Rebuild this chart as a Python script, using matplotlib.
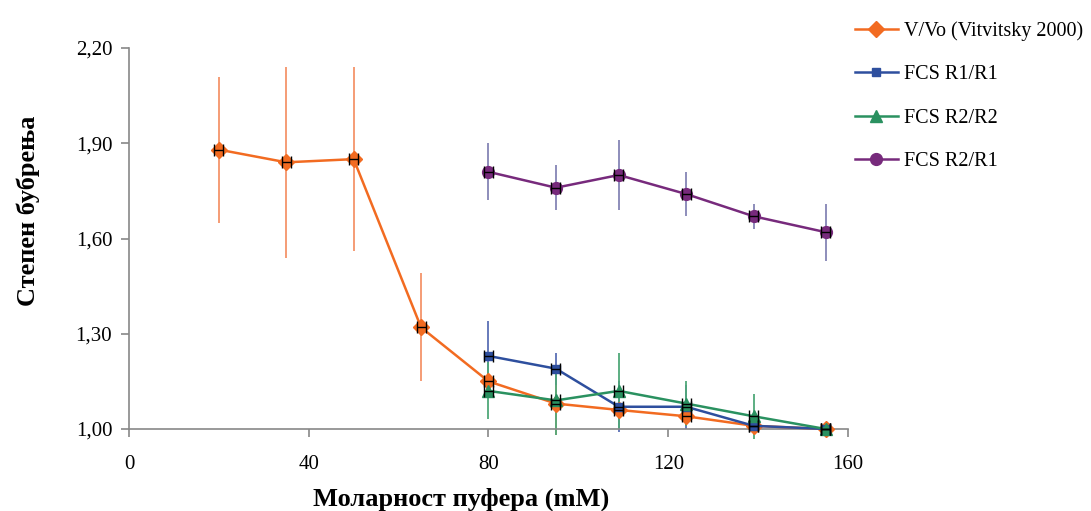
import matplotlib
matplotlib.use("Agg")
import matplotlib.pyplot as plt
from matplotlib.ticker import FuncFormatter

plt.rcParams['font.family'] = ['Liberation Serif', 'DejaVu Serif']

# data
x_vit = [20, 35, 50, 65, 80, 95, 109, 124, 139, 155]
y_vit = [1.88, 1.84, 1.85, 1.32, 1.15, 1.08, 1.06, 1.04, 1.01, 1.00]
e_vit = [0.23, 0.30, 0.29, 0.17, 0.03, 0.10, 0.02, 0.02, 0.01, 0.0]

x_fcs = [80, 95, 109, 124, 139, 155]
y_r1r1 = [1.23, 1.19, 1.07, 1.07, 1.01, 1.00]
e_r1r1 = [0.11, 0.05, 0.08, 0.07, 0.01, 0.0]
y_r2r2 = [1.12, 1.09, 1.12, 1.08, 1.04, 1.00]
e_r2r2 = [0.09, 0.11, 0.12, 0.07, 0.07, 0.0]
y_r2r1 = [1.81, 1.76, 1.80, 1.74, 1.67, 1.62]
e_r2r1 = [0.09, 0.07, 0.11, 0.07, 0.04, 0.09]

xerr = 1.0

series = [
    (x_vit, y_vit, e_vit, 'V/Vo (Vitvitsky 2000)', '#F26B21', '#F5946A', 'D', 8),
    (x_fcs, y_r1r1, e_r1r1, 'FCS R1/R1', '#2E4F9E', '#5A6FB5', 's', 6),
    (x_fcs, y_r2r2, e_r2r2, 'FCS R2/R2', '#2A9160', '#4FA878', '^', 8.5),
    (x_fcs, y_r2r1, e_r2r1, 'FCS R2/R1', '#772A7C', '#8585B5', 'o', 8.5),
]

fig = plt.figure(figsize=(10.91, 5.11), dpi=100)
ax = fig.add_axes([0.1182, 0.1605, 0.6591, 0.7455])

for xs, ys, es, lab, col, ecol, mk, ms in series:
    # vertical error bars
    ax.errorbar(xs, ys, yerr=es, fmt='none', ecolor=ecol, elinewidth=1.3,
                capsize=0, clip_on=False, zorder=2)
    # horizontal black error bars
    ax.errorbar(xs, ys, xerr=xerr, fmt='none', ecolor='black', elinewidth=1.0,
                capsize=4, capthick=1.0, clip_on=False, zorder=4)
    ax.plot(xs, ys, color=col, marker=mk, markersize=ms, linewidth=1.8,
            label=lab, clip_on=False, zorder=3)

ax.set_xlim(0, 160)
ax.set_ylim(1.0, 2.2)
ax.set_xticks([0, 40, 80, 120, 160])
ax.set_yticks([1.0, 1.3, 1.6, 1.9, 2.2])
ax.yaxis.set_major_formatter(FuncFormatter(lambda v, p: f'{v:.2f}'.replace('.', ',')))

for s in ['top', 'right']:
    ax.spines[s].set_visible(False)
for s in ['left', 'bottom']:
    ax.spines[s].set_color('#888888')
    ax.spines[s].set_linewidth(1.2)
ax.tick_params(axis='both', colors='#888888', labelcolor='black', labelsize=15,
               length=6, width=1.2, direction='out')
ax.tick_params(axis='x', pad=13)
ax.tick_params(axis='y', pad=6)

ax.set_xlabel('Моларност пуфера (mM)', fontsize=19, fontweight='bold')
ax.set_ylabel('Степен бубрења', fontsize=19, fontweight='bold')
ax.xaxis.set_label_coords(0.462, -0.153)
ax.yaxis.set_label_coords(-0.124, 0.572)

fig.legend(loc='upper left', bbox_to_anchor=(0.7747, 0.978), frameon=False,
           fontsize=14.5, labelspacing=1.2, handlelength=2.1, handletextpad=0.3,
           borderpad=0)

fig.savefig('out.png', dpi=100)
